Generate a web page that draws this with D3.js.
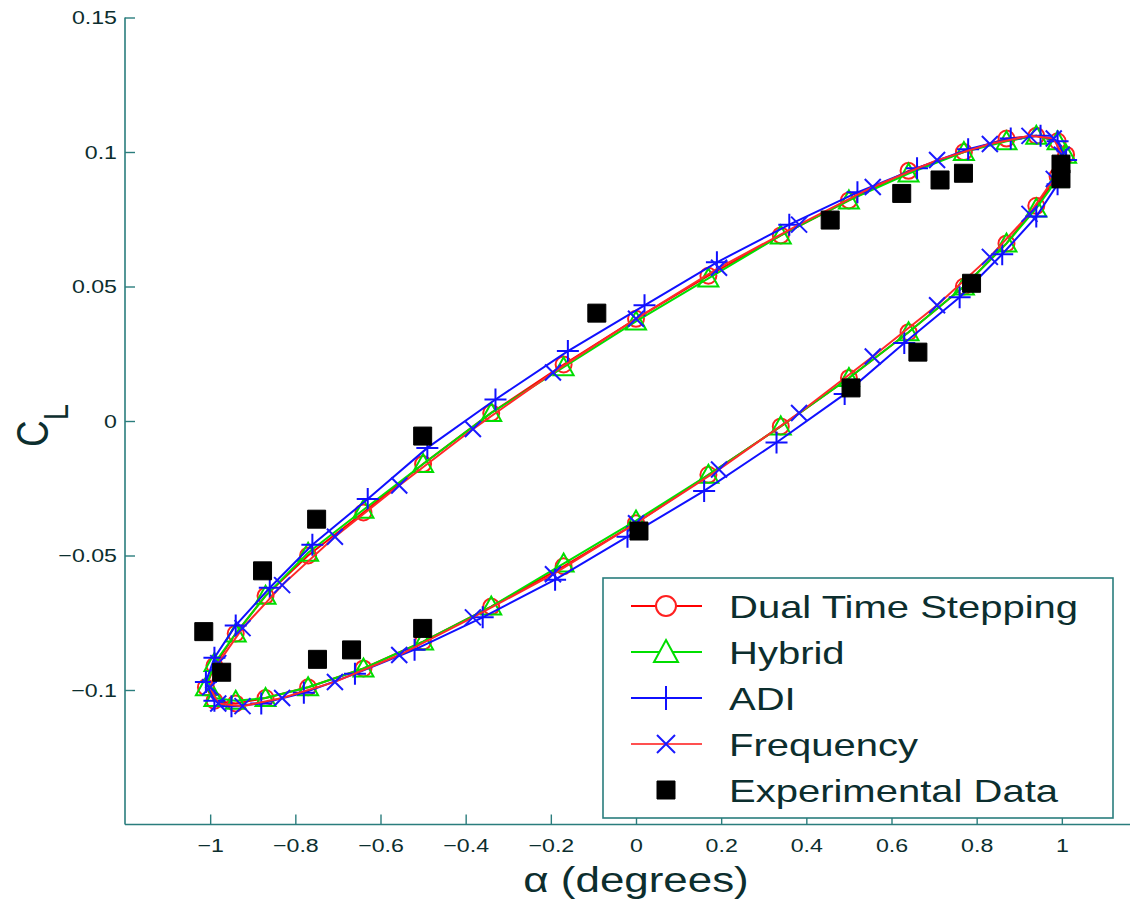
<!DOCTYPE html>
<html><head><meta charset="utf-8">
<script src="https://cdn.jsdelivr.net/npm/d3@7"></script>
<style>body{margin:0;background:#fff}svg{display:block}text{font-family:"Liberation Sans",Arial,sans-serif}</style>
</head><body>
<svg id="chart" width="1130" height="907"></svg>
<script>
// ---- data ----
const xTicks = [-1, -0.8, -0.6, -0.4, -0.2, 0, 0.2, 0.4, 0.6, 0.8, 1];
const yTicks = [-0.1, -0.05, 0, 0.05, 0.1, 0.15];
const seriesNames = ["Dual Time Stepping", "Hybrid", "ADI", "Frequency", "Experimental Data"];

const dualAlpha = [0, 0.17, 0.34, 0.50, 0.64, 0.77, 0.87, 0.94, 0.99, 1.01, 0.99, 0.94, 0.87, 0.77, 0.64, 0.50, 0.34, 0.17, 0, -0.17, -0.34, -0.50, -0.64, -0.77, -0.87, -0.94, -0.99, -1.01, -0.99, -0.94, -0.87, -0.77, -0.64, -0.50, -0.34, -0.17, 0];
const dualCL = [0.038, 0.054, 0.069, 0.082, 0.093, 0.100, 0.105, 0.106, 0.104, 0.099, 0.091, 0.080, 0.066, 0.050, 0.033, 0.016, -0.002, -0.020, -0.038, -0.054, -0.069, -0.082, -0.092, -0.099, -0.103, -0.105, -0.104, -0.099, -0.091, -0.079, -0.065, -0.050, -0.034, -0.016, 0.003, 0.021, 0.038];

const hybridAlpha = [0, 0.17, 0.34, 0.50, 0.64, 0.77, 0.87, 0.94, 0.99, 1.01, 0.99, 0.94, 0.87, 0.77, 0.64, 0.50, 0.34, 0.17, 0, -0.17, -0.34, -0.50, -0.64, -0.77, -0.87, -0.94, -0.99, -1.01, -0.99, -0.94, -0.87, -0.77, -0.64, -0.50, -0.34, -0.17, 0];
const hybridCL = [0.037, 0.053, 0.069, 0.082, 0.092, 0.100, 0.104, 0.106, 0.104, 0.099, 0.090, 0.079, 0.066, 0.050, 0.033, 0.016, -0.002, -0.020, -0.037, -0.053, -0.069, -0.082, -0.092, -0.099, -0.103, -0.104, -0.103, -0.099, -0.090, -0.079, -0.065, -0.049, -0.033, -0.016, 0.003, 0.020, 0.037];

const adiAlpha = [0.02, 0.19, 0.36, 0.52, 0.66, 0.78, 0.88, 0.95, 0.99, 1.01, 0.99, 0.94, 0.86, 0.76, 0.63, 0.49, 0.33, 0.16, -0.02, -0.19, -0.36, -0.52, -0.66, -0.78, -0.88, -0.95, -0.99, -1.01, -0.99, -0.94, -0.86, -0.76, -0.63, -0.49, -0.33, -0.16, 0.02];
const adiCL = [0.043, 0.059, 0.073, 0.085, 0.094, 0.101, 0.105, 0.106, 0.104, 0.097, 0.088, 0.076, 0.062, 0.046, 0.029, 0.010, -0.008, -0.026, -0.043, -0.059, -0.073, -0.085, -0.094, -0.101, -0.105, -0.106, -0.104, -0.097, -0.088, -0.076, -0.062, -0.046, -0.029, -0.010, 0.008, 0.026, 0.043];

const freqAlpha = [0, 0.195, 0.383, 0.556, 0.707, 0.831, 0.924, 0.981, 1.0, 0.981, 0.924, 0.831, 0.707, 0.556, 0.383, 0.195, 0, -0.195, -0.383, -0.556, -0.707, -0.831, -0.924, -0.981, -1.0, -0.981, -0.924, -0.831, -0.707, -0.556, -0.383, -0.195, 0];
const freqCL = [0.038, 0.057, 0.073, 0.087, 0.097, 0.103, 0.106, 0.105, 0.099, 0.090, 0.077, 0.061, 0.043, 0.024, 0.003, -0.018, -0.038, -0.057, -0.073, -0.087, -0.097, -0.103, -0.106, -0.105, -0.099, -0.090, -0.077, -0.061, -0.043, -0.024, -0.003, 0.018, 0.038];

const expAlpha = [0.998, 0.998, 0.769, 0.714, 0.624, 0.456, -0.092, -0.501, -0.750, -0.877, -1.015, -0.973, -0.748, -0.668, -0.501, 0.007, 0.505, 0.662, 0.788];
const expCL = [0.0955, 0.090, 0.0921, 0.0896, 0.0846, 0.0747, 0.0401, -0.0056, -0.0365, -0.0557, -0.0783, -0.0934, -0.0886, -0.0851, -0.0771, -0.0409, 0.0123, 0.0256, 0.0512];

// ---- layout ----
const svg = d3.select("#chart");
const AXIS = "#2a7d7d", TXT = "#0c2e2e", SX = 1.22;
const x = d3.scaleLinear().domain([-1.2, 1.2]).range([125, 1147]);
const y = d3.scaleLinear().domain([-0.15, 0.15]).range([824.5, 17.5]);

const zip = (a, b) => a.map((v, i) => [v, b[i]]);
const line = d3.line().x(d => x(d[0])).y(d => y(d[1]));

// axes
const fmt = v => (v < 0 ? "\u2212" : "") + String(Math.abs(v));
const gy = svg.append("g").attr("transform", "translate(125,0)")
  .call(d3.axisLeft(y).tickValues(yTicks).tickSize(-10).tickPadding(8).tickFormat(fmt));
const gx = svg.append("g").attr("transform", "translate(0,824.5)")
  .call(d3.axisBottom(x).tickValues(xTicks).tickSize(-10).tickPadding(14).tickFormat(fmt));
[gy, gx].forEach(g => {
  g.select(".domain").attr("stroke", AXIS).attr("stroke-width", 1.6);
  g.selectAll(".tick line").attr("stroke", AXIS).attr("stroke-width", 1.4);
  g.selectAll(".tick text").attr("fill", TXT).attr("font-size", 19);
});
gy.select(".domain").attr("d", `M0,${y(0.15)}V${y(-0.15)}`);
gx.select(".domain").attr("d", `M${x(-1.2)},0H1135`);
gy.selectAll(".tick text").attr("x", 0).attr("transform", `translate(-8,0) scale(${SX},1)`);
gx.selectAll(".tick text").attr("y", 14).attr("dy", "0.71em").attr("transform", `scale(${SX},1)`);

// series
const plot = svg.append("g");
function markers(g, pts, type, color) {
  const s = g.selectAll(null).data(pts).enter().append("path")
    .attr("transform", d => `translate(${x(d[0])},${y(d[1])})`)
    .attr("fill", "none").attr("stroke", color).attr("stroke-width", 2);
  if (type === "circle") s.attr("d", "M8,0A8,8 0 1,1 -8,0A8,8 0 1,1 8,0Z");
  if (type === "tri") s.attr("d", "M0,-10L10,8L-10,8Z");
  if (type === "plus") s.attr("d", "M-11,0H11M0,-11V11");
  if (type === "x") s.attr("d", "M-8,-8L8,8M-8,8L8,-8");
  if (type === "square") s.attr("d", "M-9,-9H9V9H-9Z").attr("fill", "#000").attr("stroke", "#000").attr("stroke-width", 1);
}
const series = [
  {pts: zip(dualAlpha, dualCL), line: "#ff0000", mk: "circle", mc: "#ff2020"},
  {pts: zip(hybridAlpha, hybridCL), line: "#00e000", mk: "tri", mc: "#00dd00"},
  {pts: zip(adiAlpha, adiCL), line: "#1010ff", mk: "plus", mc: "#1010ff"},
  {pts: zip(freqAlpha, freqCL), line: "#ff2a2a", mk: "x", mc: "#1a1aff"}
];
series.forEach(s => {
  plot.append("path").attr("d", line(s.pts)).attr("fill", "none").attr("stroke", s.line).attr("stroke-width", 2);
  markers(plot, s.pts.slice(0, -1), s.mk, s.mc);
});
markers(plot, zip(expAlpha, expCL), "square", "#000");

// axis titles
svg.append("g").attr("transform", `translate(636,892) scale(${SX},1)`)
  .append("text").attr("text-anchor", "middle").attr("font-size", 36).attr("fill", TXT)
  .text("\u03b1 (degrees)");
const yl = svg.append("g").attr("transform", `translate(48,447) scale(${SX},1) rotate(-90)`)
  .append("text").attr("font-size", 37).attr("fill", TXT);
yl.append("tspan").text("C");
yl.append("tspan").attr("font-size", 29).attr("dy", 16).text("L");

// legend
const lg = svg.append("g");
lg.append("rect").attr("x", 603).attr("y", 578).attr("width", 510).attr("height", 240)
  .attr("fill", "#fff").attr("stroke", AXIS).attr("stroke-width", 1.6);
const rowsY = [606, 652, 698, 744, 790];
const legItems = [
  {line: "#ff0000", mk: "circle", mc: "#ff2020"},
  {line: "#00e000", mk: "tri", mc: "#00dd00"},
  {line: "#1010ff", mk: "plus", mc: "#1010ff"},
  {line: "#ff5050", mk: "x", mc: "#1a1aff"},
  {line: null, mk: "square", mc: "#000"}
];
legItems.forEach((it, i) => {
  const cy = rowsY[i];
  if (it.line) lg.append("line").attr("x1", 631).attr("x2", 702).attr("y1", cy).attr("y2", cy)
    .attr("stroke", it.line).attr("stroke-width", 2);
  const s = lg.append("path").attr("transform", `translate(666,${cy})`).attr("fill", "none")
    .attr("stroke", it.mc).attr("stroke-width", 2);
  if (it.mk === "circle") s.attr("fill", "#fff").attr("d", "M10,0A10,10 0 1,1 -10,0A10,10 0 1,1 10,0Z");
  if (it.mk === "tri") s.attr("fill", "#fff").attr("d", "M0,-12L12,10L-12,10Z");
  if (it.mk === "plus") s.attr("d", "M-12,0H12M0,-12V12");
  if (it.mk === "x") s.attr("d", "M-9,-9L9,9M-9,9L9,-9");
  if (it.mk === "square") s.attr("d", "M-9,-9H9V9H-9Z").attr("fill", "#000").attr("stroke-width", 1);
  lg.append("g").attr("transform", `translate(729,${cy + 12}) scale(1.25,1)`)
    .append("text").attr("font-size", 32).attr("fill", TXT).text(seriesNames[i]);
});
</script>
</body></html>
